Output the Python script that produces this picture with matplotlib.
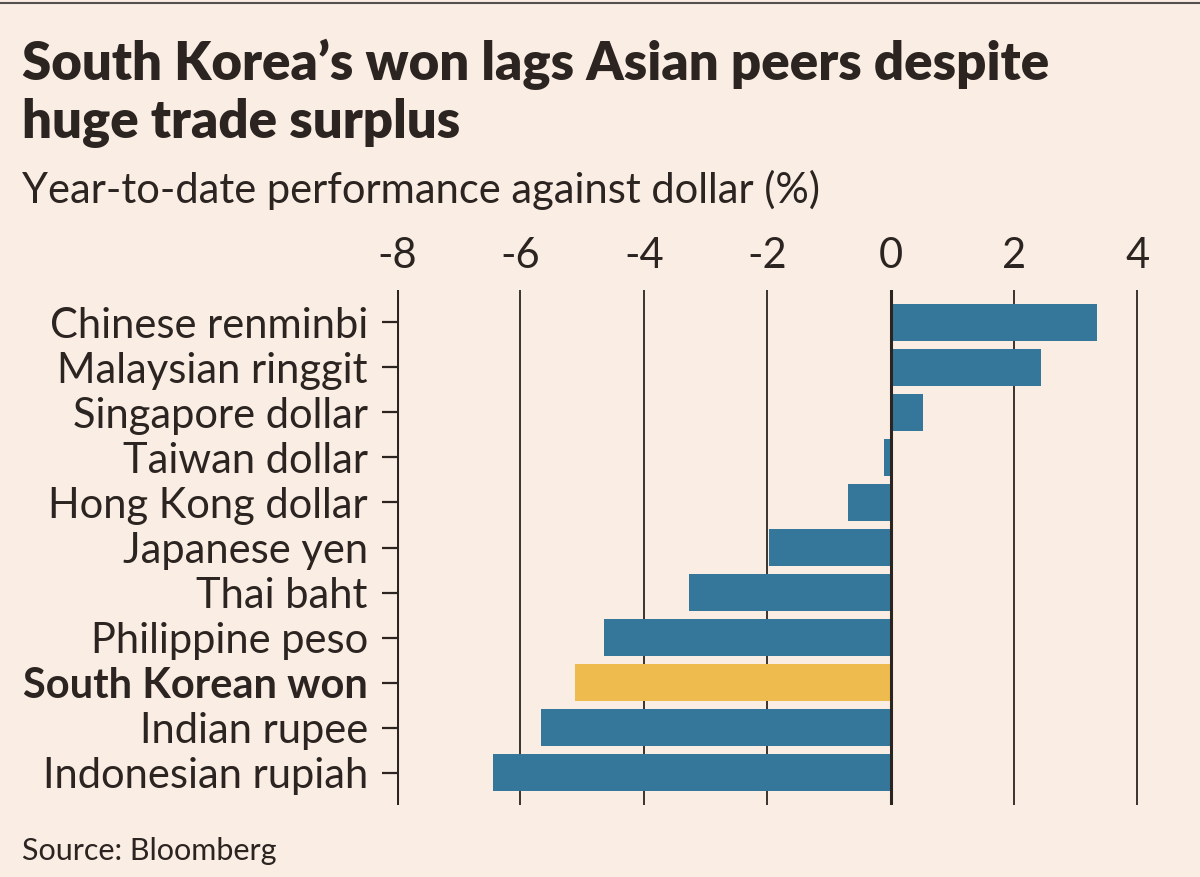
import matplotlib.pyplot as plt

currencies = ["Chinese renminbi", "Malaysian ringgit", "Singapore dollar", "Taiwan dollar",
              "Hong Kong dollar", "Japanese yen", "Thai baht", "Philippine peso",
              "South Korean won", "Indian rupee", "Indonesian rupiah"]
ytd_change = [3.35, 2.43, 0.52, -0.11, -0.69, -1.97, -3.26, -4.65, -5.11, -5.67, -6.45]
highlight = "South Korean won"
xticks = [-8, -6, -4, -2, 0, 2, 4]

bg = '#FAEDE3'
blue = '#35779A'
yellow = '#EEBB4F'
ink = '#2B2421'

fig = plt.figure(figsize=(12, 8.77), dpi=100, facecolor=bg)
ax = fig.add_axes([397/1200, 1-805/877, (1159-397)/1200, (805-290)/877])
ax.set_facecolor(bg)

colors = [yellow if c == highlight else blue for c in currencies]
ax.barh(range(len(currencies)), ytd_change, height=0.82, color=colors, zorder=2)

ax.set_xlim(-8, 4.35)
ax.set_ylim(len(currencies)-0.29, -0.71)

for x in xticks:
    ax.axvline(x, color=ink, lw=1.3 if x not in (-8, 0) else 2.2, zorder=3 if x == 0 else 1)

for s in ax.spines.values():
    s.set_visible(False)

ax.xaxis.tick_top()
ax.set_xticks(xticks)
ax.set_xticklabels([str(x) for x in xticks], family='Lato', fontsize=30, color=ink)
ax.tick_params(axis='x', length=0, pad=11)

ax.set_yticks(range(len(currencies)))
ax.set_yticklabels(currencies, family='Lato', fontsize=30, color=ink)
ax.tick_params(axis='y', length=11, width=1.6, color=ink, pad=10)
for lab in ax.get_yticklabels():
    if lab.get_text() == highlight:
        lab.set_fontweight('bold')

fig.text(22/1200, 1-80/877, "South Korea’s won lags Asian peers despite",
         family='Lato', fontweight='heavy', fontsize=38, color=ink)
fig.text(22/1200, 1-138/877, "huge trade surplus",
         family='Lato', fontweight='heavy', fontsize=38, color=ink)
fig.text(22/1200, 1-203/877, "Year-to-date performance against dollar (%)",
         family='Lato', fontsize=30, color=ink)
fig.text(22/1200, 1-860/877, "Source: Bloomberg", family='Lato', fontsize=22, color=ink)

fig.add_artist(plt.Line2D([0, 1], [1-3/877, 1-3/877], color='#555050', lw=1.5))

fig.savefig('out.png', dpi=100, facecolor=bg)
